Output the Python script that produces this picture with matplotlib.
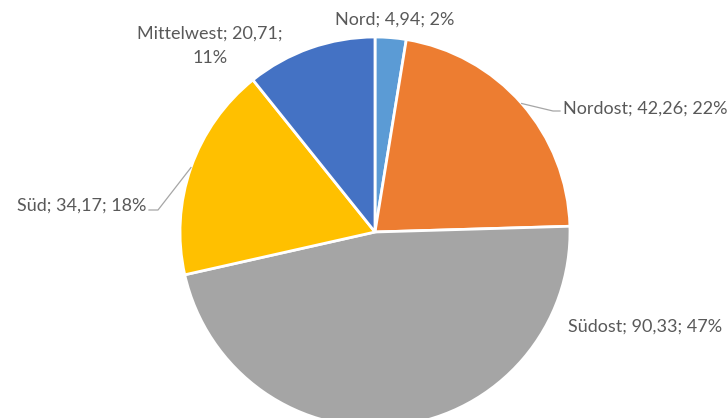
import matplotlib.pyplot as plt
import numpy as np

# Daten
regionen = ['Nord', 'Nordost', 'Südost', 'Süd', 'Mittelwest']
werte = [4.94, 42.26, 90.33, 34.17, 20.71]
prozent = [2, 22, 47, 18, 11]
farben = ['#5B9BD5', '#ED7D31', '#A5A5A5', '#FFC000', '#4472C4']

W, H = 728, 418
cx, cy, r = 375, 232, 195  # Mitte und Radius in Pixeln (y von oben)


def py(y):
    # Pixel-y von oben -> Datenkoordinate
    return H - y


fig = plt.figure(figsize=(W / 100, H / 100), dpi=100)
ax = fig.add_axes([0, 0, 1, 1])

wedges, _ = ax.pie(werte, colors=farben, startangle=90, counterclock=False,
                   center=(cx, py(cy)), radius=r,
                   wedgeprops=dict(edgecolor='white', linewidth=2))

# Grenzen erst nach pie() setzen
ax.set_xlim(0, W)
ax.set_ylim(0, H)
ax.set_aspect('equal')
ax.axis('off')

texte = [f"{n}; {v:.2f}; {p}%".replace('.', ',')
         for n, v, p in zip(regionen, werte, prozent)]
texte[4] = texte[4].replace('; 11%', ';\n11%')

font = dict(family=['Lato', 'DejaVu Sans'], fontsize=13, color='#595959')

# Beschriftungen (Position in Pixeln)
ax.text(395, py(20), texte[0], ha='center', va='center', **font)
ax.text(563, py(109), texte[1], ha='left', va='center', **font)
ax.text(568, py(327), texte[2], ha='left', va='center', **font)
ax.text(146, py(206), texte[3], ha='right', va='center', **font)
ax.text(210, py(46), texte[4], ha='center', va='center', linespacing=1.6, **font)


# Führungslinien
def rand(i):
    w = wedges[i]
    a = np.deg2rad((w.theta1 + w.theta2) / 2)
    return cx + r * np.cos(a), py(cy) + r * np.sin(a)


x0, y0 = rand(1)
ax.plot([x0, 553, 560], [y0, py(111), py(111)], color='#A6A6A6', lw=0.9)
x0, y0 = rand(3)
ax.plot([x0, 158, 149], [y0, py(210), py(210)], color='#A6A6A6', lw=0.9)

fig.savefig('out.png', dpi=100)
